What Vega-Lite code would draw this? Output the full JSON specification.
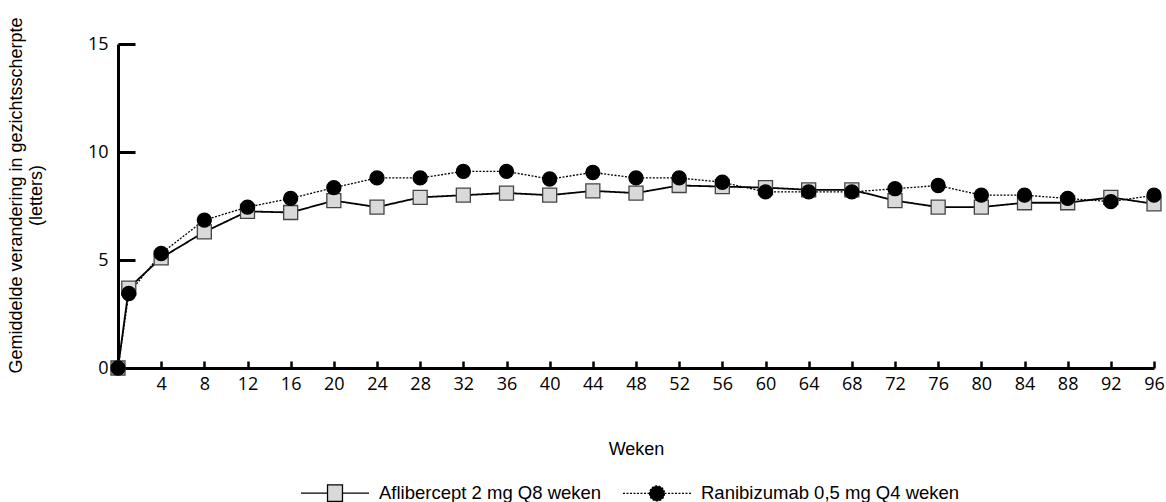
{
  "$schema": "https://vega.github.io/schema/vega-lite/v6.json",
  "width": 1036,
  "height": 324,
  "autosize": {"type": "none"},
  "padding": {"left": 118, "top": 44, "right": 12, "bottom": 134},
  "background": "white",
  "config": {"view": {"stroke": null}, "font": "Liberation Sans"},
  "data": {
    "values": [
      {"week": 0, "series": "Aflibercept 2 mg Q8 weken", "change": 0},
      {"week": 1, "series": "Aflibercept 2 mg Q8 weken", "change": 3.7},
      {"week": 4, "series": "Aflibercept 2 mg Q8 weken", "change": 5.1},
      {"week": 8, "series": "Aflibercept 2 mg Q8 weken", "change": 6.3},
      {"week": 12, "series": "Aflibercept 2 mg Q8 weken", "change": 7.25},
      {"week": 16, "series": "Aflibercept 2 mg Q8 weken", "change": 7.2},
      {"week": 20, "series": "Aflibercept 2 mg Q8 weken", "change": 7.75},
      {"week": 24, "series": "Aflibercept 2 mg Q8 weken", "change": 7.45},
      {"week": 28, "series": "Aflibercept 2 mg Q8 weken", "change": 7.9},
      {"week": 32, "series": "Aflibercept 2 mg Q8 weken", "change": 8.0},
      {"week": 36, "series": "Aflibercept 2 mg Q8 weken", "change": 8.1},
      {"week": 40, "series": "Aflibercept 2 mg Q8 weken", "change": 8.0},
      {"week": 44, "series": "Aflibercept 2 mg Q8 weken", "change": 8.2},
      {"week": 48, "series": "Aflibercept 2 mg Q8 weken", "change": 8.1},
      {"week": 52, "series": "Aflibercept 2 mg Q8 weken", "change": 8.45},
      {"week": 56, "series": "Aflibercept 2 mg Q8 weken", "change": 8.4},
      {"week": 60, "series": "Aflibercept 2 mg Q8 weken", "change": 8.35},
      {"week": 64, "series": "Aflibercept 2 mg Q8 weken", "change": 8.25},
      {"week": 68, "series": "Aflibercept 2 mg Q8 weken", "change": 8.25},
      {"week": 72, "series": "Aflibercept 2 mg Q8 weken", "change": 7.75},
      {"week": 76, "series": "Aflibercept 2 mg Q8 weken", "change": 7.45},
      {"week": 80, "series": "Aflibercept 2 mg Q8 weken", "change": 7.45},
      {"week": 84, "series": "Aflibercept 2 mg Q8 weken", "change": 7.65},
      {"week": 88, "series": "Aflibercept 2 mg Q8 weken", "change": 7.65},
      {"week": 92, "series": "Aflibercept 2 mg Q8 weken", "change": 7.9},
      {"week": 96, "series": "Aflibercept 2 mg Q8 weken", "change": 7.6},
      {"week": 0, "series": "Ranibizumab 0,5 mg Q4 weken", "change": 0},
      {"week": 1, "series": "Ranibizumab 0,5 mg Q4 weken", "change": 3.45},
      {"week": 4, "series": "Ranibizumab 0,5 mg Q4 weken", "change": 5.3},
      {"week": 8, "series": "Ranibizumab 0,5 mg Q4 weken", "change": 6.85},
      {"week": 12, "series": "Ranibizumab 0,5 mg Q4 weken", "change": 7.45},
      {"week": 16, "series": "Ranibizumab 0,5 mg Q4 weken", "change": 7.85},
      {"week": 20, "series": "Ranibizumab 0,5 mg Q4 weken", "change": 8.35},
      {"week": 24, "series": "Ranibizumab 0,5 mg Q4 weken", "change": 8.8},
      {"week": 28, "series": "Ranibizumab 0,5 mg Q4 weken", "change": 8.8},
      {"week": 32, "series": "Ranibizumab 0,5 mg Q4 weken", "change": 9.1},
      {"week": 36, "series": "Ranibizumab 0,5 mg Q4 weken", "change": 9.1},
      {"week": 40, "series": "Ranibizumab 0,5 mg Q4 weken", "change": 8.75},
      {"week": 44, "series": "Ranibizumab 0,5 mg Q4 weken", "change": 9.05},
      {"week": 48, "series": "Ranibizumab 0,5 mg Q4 weken", "change": 8.8},
      {"week": 52, "series": "Ranibizumab 0,5 mg Q4 weken", "change": 8.8},
      {"week": 56, "series": "Ranibizumab 0,5 mg Q4 weken", "change": 8.6},
      {"week": 60, "series": "Ranibizumab 0,5 mg Q4 weken", "change": 8.15},
      {"week": 64, "series": "Ranibizumab 0,5 mg Q4 weken", "change": 8.15},
      {"week": 68, "series": "Ranibizumab 0,5 mg Q4 weken", "change": 8.15},
      {"week": 72, "series": "Ranibizumab 0,5 mg Q4 weken", "change": 8.3},
      {"week": 76, "series": "Ranibizumab 0,5 mg Q4 weken", "change": 8.45},
      {"week": 80, "series": "Ranibizumab 0,5 mg Q4 weken", "change": 8.0},
      {"week": 84, "series": "Ranibizumab 0,5 mg Q4 weken", "change": 8.0},
      {"week": 88, "series": "Ranibizumab 0,5 mg Q4 weken", "change": 7.85},
      {"week": 92, "series": "Ranibizumab 0,5 mg Q4 weken", "change": 7.7},
      {"week": 96, "series": "Ranibizumab 0,5 mg Q4 weken", "change": 8.0}
    ]
  },
  "encoding": {
    "x": {
      "field": "week",
      "type": "quantitative",
      "scale": {"domain": [0, 96], "nice": false, "zero": false},
      "axis": {
        "values": [4, 8, 12, 16, 20, 24, 28, 32, 36, 40, 44, 48, 52, 56, 60, 64, 68, 72, 76, 80, 84, 88, 92, 96],
        "grid": false,
        "domainColor": "black",
        "domainWidth": 3,
        "tickColor": "black",
        "tickWidth": 2.5,
        "tickSize": -7,
        "labelFont": "Open Sans",
        "labelFontSize": 18,
        "labelColor": "black",
        "labelPadding": 14,
        "labelFlush": false,
        "title": "Weken",
        "titleFont": "Liberation Sans",
        "titleFontSize": 18,
        "titleFontWeight": "normal",
        "titleColor": "black",
        "titleBaseline": "middle",
        "titleY": 81
      }
    },
    "y": {
      "field": "change",
      "type": "quantitative",
      "scale": {"domain": [0, 15], "nice": false},
      "axis": {
        "values": [0, 5, 10, 15],
        "grid": false,
        "domainColor": "black",
        "domainWidth": 3,
        "tickColor": "black",
        "tickWidth": 3,
        "tickSize": -17,
        "labelFont": "Open Sans",
        "labelFontSize": 18,
        "labelColor": "black",
        "labelPadding": 27,
        "labelFlush": false,
        "title": ["Gemiddelde verandering in gezichtsscherpte", "(letters)"],
        "titleFont": "Liberation Sans",
        "titleFontSize": 18,
        "titleFontWeight": "normal",
        "titleColor": "black",
        "titleAngle": -90,
        "titleAlign": "center",
        "titleBaseline": "top",
        "titleLineHeight": 20,
        "titleX": -111,
        "titleY": 151
      }
    }
  },
  "layer": [
    {
      "mark": {"type": "line", "color": "black"},
      "encoding": {
        "detail": {"field": "series", "type": "nominal"},
        "strokeDash": {
          "field": "series",
          "type": "nominal",
          "scale": {"domain": ["Aflibercept 2 mg Q8 weken", "Ranibizumab 0,5 mg Q4 weken"], "range": [[1, 0], [2, 1.5]]},
          "legend": {
            "title": null,
            "orient": "none",
            "direction": "horizontal",
            "legendX": 182,
            "legendY": 414,
            "padding": 0,
            "symbolSize": 4624,
            "symbolStrokeWidth": 1.3,
            "symbolStrokeColor": "black",
            "labelFont": "Liberation Sans",
            "labelFontSize": 18.5,
            "labelColor": "black",
            "labelOffset": 9,
            "labelLimit": 400,
            "columnPadding": 18,
            "encode": {
              "symbols": {
                "update": {
                  "shape": {"signal": "datum.value === 'Aflibercept 2 mg Q8 weken' ? 'M-1,0H-0.22M0.22,0H1M-0.22,-0.24H0.22V0.24H-0.22Z' : 'M-1,0H-0.22M0.22,0H1M-0.22,0A0.22,0.22 0 1,0 0.22,0A0.22,0.22 0 1,0 -0.22,0Z'"},
                  "fill": {"signal": "datum.value === 'Aflibercept 2 mg Q8 weken' ? '#d9d9d9' : 'black'"},
                  "stroke": {"value": "black"},
                  "opacity": {"value": 1}
                }
              }
            }
          }
        },
        "strokeWidth": {
          "field": "series",
          "type": "nominal",
          "scale": {"range": [1.8, 1.3]},
          "legend": null
        }
      }
    },
    {
      "mark": {"type": "point", "filled": true, "size": 196, "opacity": 1, "strokeWidth": 1.3},
      "encoding": {
        "shape": {
          "field": "series",
          "type": "nominal",
          "scale": {"range": ["square", "circle"]},
          "legend": null
        },
        "fill": {
          "field": "series",
          "type": "nominal",
          "scale": {"range": ["#d9d9d9", "black"]},
          "legend": null
        },
        "stroke": {
          "field": "series",
          "type": "nominal",
          "scale": {"range": ["#444444", "black"]},
          "legend": null
        }
      }
    }
  ]
}
